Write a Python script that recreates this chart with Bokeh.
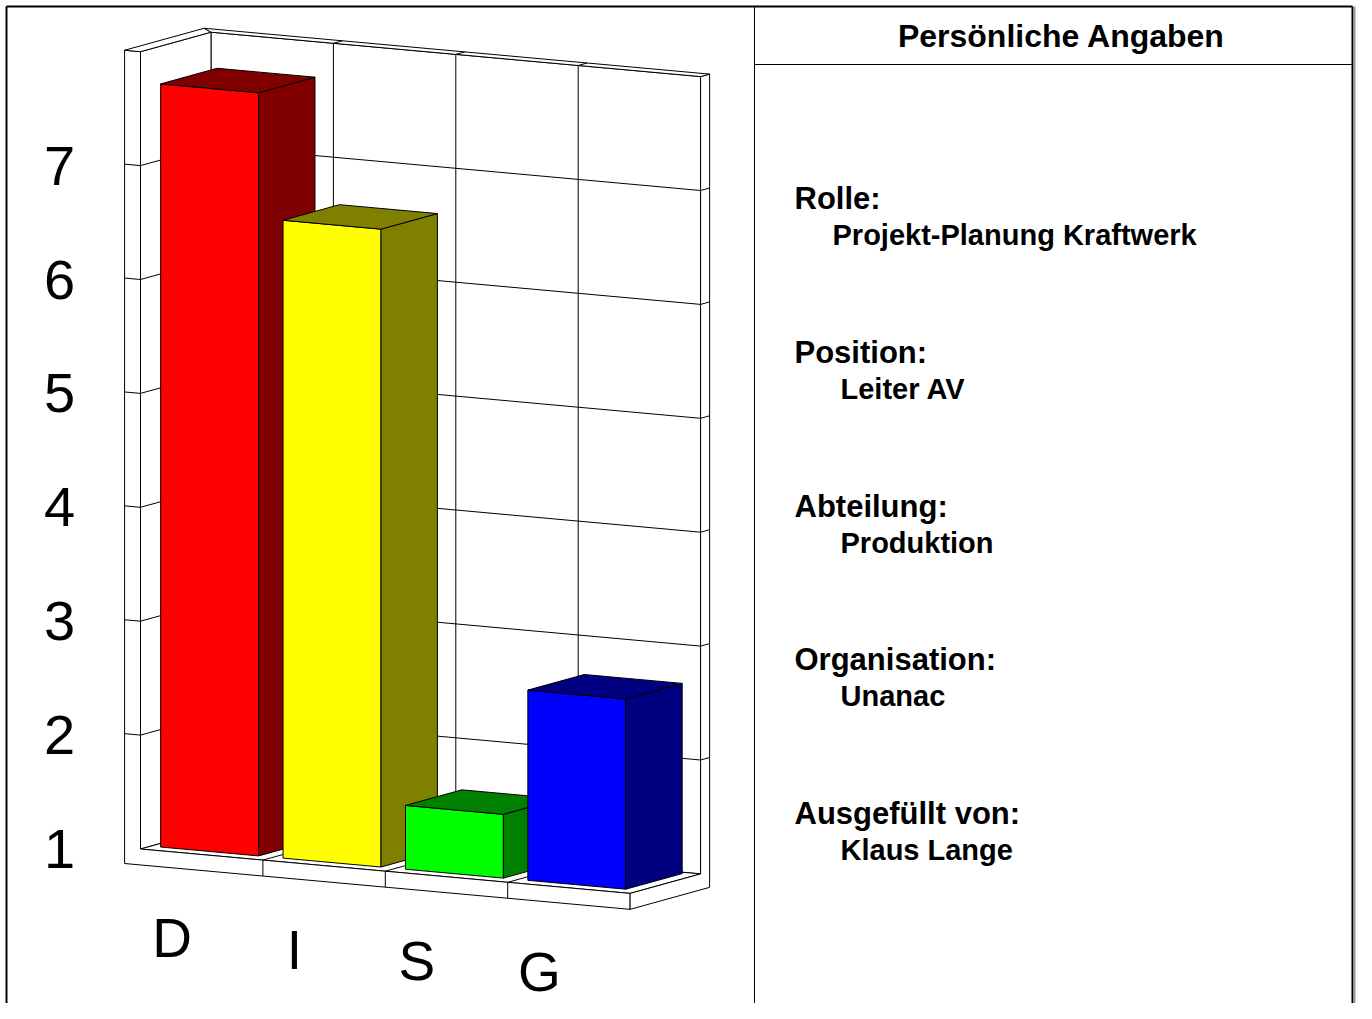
from bokeh.plotting import figure
from bokeh.models import Range1d
from bokeh.embed import file_html
from bokeh.resources import INLINE
from bokeh.core.properties import value

# ---------------- data ----------------
categories = ["D", "I", "S", "G"]
scores = [7.7, 6.6, 1.56, 2.67]
front_colors = ["#FF0000", "#FFFF00", "#00FF00", "#0000FF"]
side_colors = ["#800000", "#808000", "#008000", "#000080"]
y_ticks = [1, 2, 3, 4, 5, 6, 7]
v_min, v_max = 1, 8

panel_title = "Persönliche Angaben"
field_labels = ["Rolle:", "Position:", "Abteilung:", "Organisation:", "Ausgefüllt von:"]
field_values = ["Projekt-Planung Kraftwerk", "Leiter AV", "Produktion", "Unanac", "Klaus Lange"]

# ---------------- page / projection ----------------
W_PX, H_PX = 1356, 1003
FONT = value("Liberation Sans")

ORIGIN = (140.0, 848.5)      # screen position of (category 0, value v_min, depth 0)
EX = (122.4, 11.1)           # screen step per category
EV = 113.9                   # screen step per value unit
EZ = (70.5, -19.5)           # screen step per full depth
TX, TV, TZ = 0.13, 0.14, 0.128  # wall thickness (category, value, depth units)
N = len(categories)
BAR_X = (0.08, 0.88)
BAR_Z = (0.147, 0.947)


def P(x, v, z):
    return (ORIGIN[0] + x * EX[0] + z * EZ[0],
            ORIGIN[1] + x * EX[1] - (v - v_min) * EV + z * EZ[1])


def poly(pts):
    pp = [P(*q) for q in pts]
    return [a for a, b in pp], [b for a, b in pp]


def seg(a, b):
    pa, pb = P(*a), P(*b)
    return [pa[0], pb[0]], [pa[1], pb[1]]


p = figure(width=W_PX, height=H_PX, output_backend="svg", toolbar_location=None,
           x_range=Range1d(0, W_PX), y_range=Range1d(H_PX, 0),
           min_border=0)
p.axis.visible = False
p.grid.visible = False
p.outline_line_color = None
p.background_fill_color = "white"
p.border_fill_color = "white"

W, H = N, v_max
b0 = v_min - TV

# ---- inner surfaces of the box ----
inner = [
    [(0, v_min, 1), (W, v_min, 1), (W, H, 1), (0, H, 1)],       # back wall
    [(0, v_min, 0), (0, v_min, 1), (0, H, 1), (0, H, 0)],       # left wall inner
    [(0, v_min, 0), (W, v_min, 0), (W, v_min, 1), (0, v_min, 1)],  # floor
]
xs, ys = zip(*[poly(f) for f in inner])
p.patches(list(xs), list(ys), fill_color="white", line_color="black", line_width=1)

# ---- grid lines ----
gx, gy = [], []
for v in y_ticks[1:]:
    for a, b in [((-TX, v, 0), (0, v, 0)), ((0, v, 0), (0, v, 1)),
                 ((0, v, 1), (W, v, 1)), ((W, v, 1), (W, v, 1 + TZ))]:
        sx, sy = seg(a, b)
        gx.append(sx); gy.append(sy)
for k in range(1, N):
    for a, b in [((k, v_min, 1), (k, H, 1)), ((k, v_min, 0), (k, v_min, 1)),
                 ((k, H, 1), (k, H, 1 + TZ))]:
        sx, sy = seg(a, b)
        gx.append(sx); gy.append(sy)

# ---- outer slab faces ----
outer = [
    [(-TX, b0, 0), (W, b0, 0), (W, v_min, 0), (0, v_min, 0), (0, H, 0), (-TX, H, 0)],
    [(W, b0, 0), (W, b0, 1 + TZ), (W, H, 1 + TZ), (W, H, 1), (W, v_min, 1), (W, v_min, 0)],
    [(-TX, H, 0), (0, H, 0), (0, H, 1), (-TX, H, 1 + TZ)],
    [(-TX, H, 1 + TZ), (0, H, 1), (W, H, 1), (W, H, 1 + TZ)],
]
xs, ys = zip(*[poly(f) for f in outer])
p.patches(list(xs), list(ys), fill_color="white", line_color="black", line_width=1)

for k in range(1, N):
    sx, sy = seg((k, b0, 0), (k, v_min, 0))
    gx.append(sx); gy.append(sy)
p.multi_line(gx, gy, line_color="black", line_width=1)

# ---- bars ----
for i, (val, fc, sc) in enumerate(zip(scores, front_colors, side_colors)):
    x0, x1 = i + BAR_X[0], i + BAR_X[1]
    z0, z1 = BAR_Z
    faces = [
        [(x0, v_min, z0), (x1, v_min, z0), (x1, val, z0), (x0, val, z0)],
        [(x1, v_min, z0), (x1, v_min, z1), (x1, val, z1), (x1, val, z0)],
        [(x0, val, z0), (x1, val, z0), (x1, val, z1), (x0, val, z1)],
    ]
    xs, ys = zip(*[poly(f) for f in faces])
    p.patches(list(xs), list(ys), fill_color=[fc, sc, sc], line_color="black", line_width=1)

# ---- tick labels ----
tx = [ORIGIN[0] - 81] * len(y_ticks)
ty = [P(0, v, 0)[1] for v in y_ticks]
p.text(tx, ty, text=[str(t) for t in y_ticks], text_font=FONT, text_font_size="56px",
       text_align="center", text_baseline="middle", text_color="black")

cx, cy = [], []
for i in range(N):
    q = P(i + 0.5, v_min - 0.665, -0.42)
    cx.append(q[0]); cy.append(q[1])
p.text(cx, cy, text=categories, text_font=FONT, text_font_size="55px",
       text_align="center", text_baseline="middle", text_color="black")

# ---- page frame & info panel ----
LEFT, TOP, RIGHT, BOTTOM = 6, 6, 1352, H_PX
DIV = 754
p.multi_line([[LEFT, LEFT], [LEFT, RIGHT], [RIGHT, RIGHT]],
             [[BOTTOM, TOP], [TOP, TOP], [TOP, BOTTOM]], line_color="black", line_width=2)
p.line([RIGHT + 2, RIGHT + 2], [TOP, BOTTOM], line_color="#999999", line_width=2)
p.multi_line([[DIV, DIV], [DIV, RIGHT]], [[TOP, BOTTOM], [64, 64]],
             line_color="black", line_width=1)

p.text([1061], [35], text=[panel_title], text_font=FONT, text_font_size="32px",
       text_font_style="bold", text_align="center", text_baseline="middle")

label_y = [198, 352, 506, 659, 813]
value_x = [832, 840, 840, 840, 840]
p.text([794] * len(field_labels), label_y, text=field_labels, text_font=FONT,
       text_font_size="31px", text_font_style="bold", text_align="left", text_baseline="middle")
p.text(value_x, [y + 36 for y in label_y], text=field_values, text_font=FONT,
       text_font_size="29px", text_font_style="bold", text_align="left", text_baseline="middle")

open("out.html", "w").write(file_html(p, INLINE))
